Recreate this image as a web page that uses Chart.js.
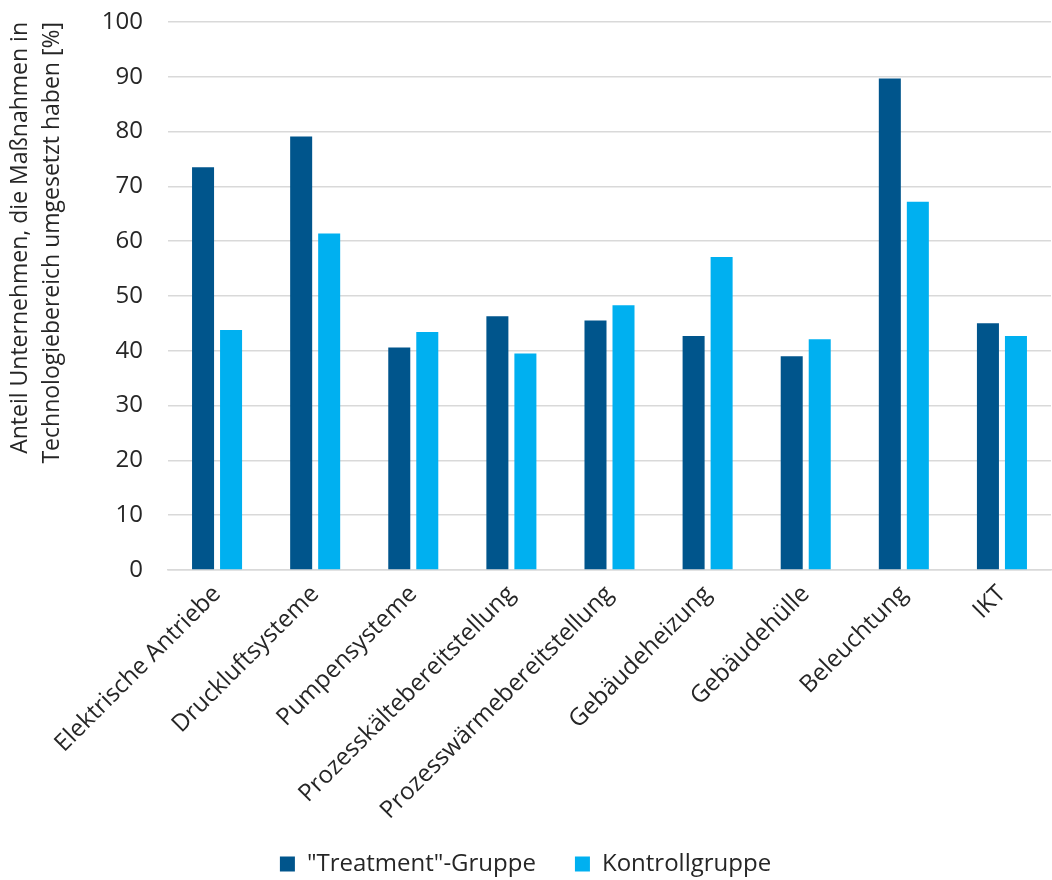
<!DOCTYPE html>
<html>
<head>
<meta charset="utf-8">
<script src="https://cdn.jsdelivr.net/npm/chart.js@4/dist/chart.umd.min.js"></script>
<style>
  html, body { margin: 0; padding: 0; background: #fff; }
  #wrap { width: 1052px; height: 880px; }
</style>
</head>
<body>
<div id="wrap"><canvas id="myChart"></canvas></div>
<script>
const categories = ['Elektrische Antriebe', 'Druckluftsysteme', 'Pumpensysteme', 'Prozesskältebereitstellung',
    'Prozesswärmebereitstellung', 'Gebäudeheizung', 'Gebäudehülle', 'Beleuchtung', 'IKT'];
const treatment = [73.5, 79.1, 40.6, 46.3, 45.5, 42.7, 39.0, 89.7, 45.0];
const kontrolle = [43.8, 61.4, 43.4, 39.5, 48.3, 57.1, 42.1, 67.2, 42.7];
const seriesNames = ['"Treatment"-Gruppe', 'Kontrollgruppe'];
const yTitle = ['Anteil Unternehmen, die Maßnahmen in', 'Technologiebereich umgesetzt haben [%]'];

const ctx = document.getElementById('myChart');
const fontFamily = '"Open Sans", "Noto Sans", sans-serif';
const textColor = '#262626';

const config = {
    type: 'bar',
    data: {
        labels: categories,
        datasets: [
            {
                label: seriesNames[0],
                data: treatment,
                backgroundColor: '#00558C',
                categoryPercentage: 0.571,
                barPercentage: 0.786
            },
            {
                label: seriesNames[1],
                data: kontrolle,
                backgroundColor: '#00B0F0',
                categoryPercentage: 0.571,
                barPercentage: 0.786
            }
        ]
    },
    options: {
        responsive: true,
        maintainAspectRatio: false,
        animation: false,
        layout: { padding: { left: 0, right: 1, top: 0, bottom: -6 } },
        scales: {
            x: {
                grid: { display: false },
                border: { color: '#d9d9d9', width: 1.5 },
                ticks: {
                    color: textColor,
                    font: { family: fontFamily, size: 24 },
                    maxRotation: 45,
                    minRotation: 45,
                    padding: 2
                },
                // rotated labels may hang past the left edge, like in the original
                afterFit: (scale) => {
                    scale.paddingLeft = 0;
                    scale.paddingRight = 0;
                    scale.height -= 14;
                    // don't cut off the longest label at the axis box
                    scale._computeLabelArea = () => null;
                }
            },
            y: {
                min: 0,
                max: 100,
                ticks: {
                    stepSize: 10,
                    color: textColor,
                    font: { family: fontFamily, size: 24 },
                    padding: 25
                },
                grid: { color: '#d9d9d9', lineWidth: 1.5, drawTicks: false },
                border: { display: false },
                title: {
                    display: true,
                    text: yTitle,
                    align: 'end',
                    color: textColor,
                    font: { family: fontFamily, size: 23, lineHeight: 1.4 },
                    padding: { top: 4, bottom: 28 }
                },
                afterFit: (scale) => {
                    scale.paddingTop = 22;
                    scale.width = 168;
                }
            }
        },
        plugins: {
            legend: {
                position: 'bottom',
                labels: {
                    color: textColor,
                    font: { family: fontFamily, size: 24 },
                    boxWidth: 15,
                    boxHeight: 15,
                    padding: 39
                }
            },
            tooltip: { enabled: false }
        }
    }
};
const myChart = new Chart(ctx, config);
</script>
</body>
</html>
